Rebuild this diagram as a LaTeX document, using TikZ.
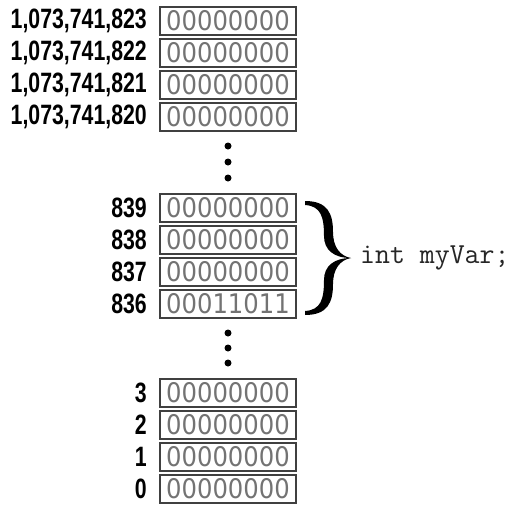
\documentclass[tikz,border=0pt]{standalone}
\usepackage{fontspec}
\newfontfamily\addrfont{Liberation Sans}[FakeStretch=0.76]
\newfontfamily\bitfont{DejaVu Sans}[FakeStretch=0.9]
\usepackage{tikz}
\usetikzlibrary{positioning}

\begin{document}
\begin{tikzpicture}[x=1pt, y=-1pt,
    cell/.style={draw=black!75, line width=1.3pt, minimum width=136pt, minimum height=28pt,
        inner sep=0pt, text=black!55, font=\bitfont\fontsize{27}{27}\selectfont},
    addr/.style={anchor=east, inner sep=0pt, font=\addrfont\bfseries\fontsize{28}{28}\selectfont}]
    \useasboundingbox (0,0) rectangle (517,504);

    % Top of memory
    \node[cell] (m3) at (228,21) {00000000};
    \node[cell] (m2) at (228,53) {00000000};
    \node[cell] (m1) at (228,85) {00000000};
    \node[cell] (m0) at (228,117) {00000000};
    \node[addr] (a3) at (147,21) {1,073,741,823};
    \node[addr] (a2) at (147,53) {1,073,741,822};
    \node[addr] (a1) at (147,85) {1,073,741,821};
    \node[addr] (a0) at (147,117) {1,073,741,820};

    % Dots
    \fill (228,146) circle (3.5);
    \fill (228,162) circle (3.5);
    \fill (228,178) circle (3.5);

    % The int
    \node[cell] (m839) at (228,208) {00000000};
    \node[cell] (m838) at (228,240) {00000000};
    \node[cell] (m837) at (228,272) {00000000};
    \node[cell] (m836) at (228,304) {00011011};
    \node[addr] (a839) at (147,208) {839};
    \node[addr] (a838) at (147,240) {838};
    \node[addr] (a837) at (147,272) {837};
    \node[addr] (a836) at (147,304) {836};

    % Brace
    \fill (305,201) .. controls (328,201) and (333,214) .. (333,232)
        .. controls (333,247) and (340,256) .. (351,258)
        .. controls (334,258) and (324,250) .. (324,236)
        .. controls (324,217) and (321,206) .. (305,205) -- cycle;
    \fill (305,315) .. controls (328,315) and (333,302) .. (333,284)
        .. controls (333,269) and (340,260) .. (351,258)
        .. controls (334,258) and (324,266) .. (324,280)
        .. controls (324,299) and (321,310) .. (305,311) -- cycle;
    \node[anchor=west, inner sep=0pt, text=black!85, font=\ttfamily\fontsize{29}{29}\selectfont] (var) at (360,258) {int myVar;};

    % Dots
    \fill (228,333) circle (3.5);
    \fill (228,348) circle (3.5);
    \fill (228,363) circle (3.5);

    % Bottom of memory
    \node[cell] (c3) at (228,393) {00000000};
    \node[cell] (c2) at (228,425) {00000000};
    \node[cell] (c1) at (228,457) {00000000};
    \node[cell] (c0) at (228,489) {00000000};
    \node[addr] (b3) at (147,393) {3};
    \node[addr] (b2) at (147,425) {2};
    \node[addr] (b1) at (147,457) {1};
    \node[addr] (b0) at (147,489) {0};
\end{tikzpicture}
\end{document}
